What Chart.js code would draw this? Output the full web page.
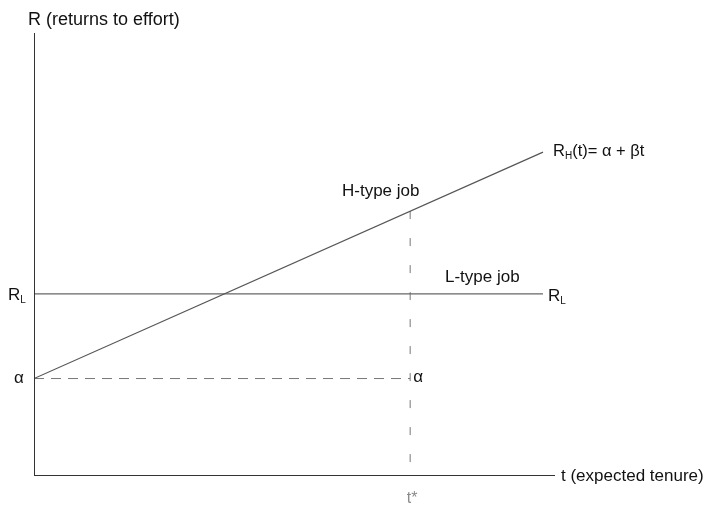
<!DOCTYPE html>
<html>
<head>
<meta charset="utf-8">
<script src="https://cdn.jsdelivr.net/npm/chart.js@4.4.1/dist/chart.umd.min.js"></script>
<style>
  html, body { margin: 0; padding: 0; background: #fff; }
  #wrap { width: 707px; height: 507px; }
</style>
</head>
<body>
<div id="wrap"><canvas id="tenureChart" width="707" height="507"></canvas></div>
<script>
// t values: start, t*, end of the drawn lines
const tPoints = [0, 72.2, 97.7];
// R values of the H-type job line R_H(t) = alpha + beta t
const rHigh = [22, 59.8, 73.1];
// R values of the L-type job line (flat)
const rLow = [41.1, 41.1, 41.1];
const alpha = 22;
const tStar = 72.2;
const axisMax = { t: 100, r: 100 };

const FONT = '"Liberation Sans", Arial, sans-serif';

function pts(xs, ys) {
  return xs.map((x, i) => ({ x: x, y: ys[i] }));
}

// text labels drawn in data space
const labelPlugin = {
  id: "labels",
  afterDatasetsDraw(chart) {
    const { ctx, scales: { x, y } } = chart;
    const px = (v) => x.getPixelForValue(v);
    const py = (v) => y.getPixelForValue(v);

    ctx.save();
    ctx.textBaseline = "alphabetic";
    ctx.fillStyle = "#111";

    function sub(main, s, left, base, size) {
      ctx.font = size + "px " + FONT;
      ctx.fillText(main, left, base);
      const w = ctx.measureText(main).width;
      ctx.font = Math.round(size * 0.6) + "px " + FONT;
      ctx.fillText(s, left + w, base + 3);
      return left + w + ctx.measureText(s).width;
    }

    ctx.font = "18px " + FONT;
    ctx.fillText("R (returns to effort)", 28, 25);

    // left axis labels
    ctx.textBaseline = "middle";
    ctx.font = "17px " + FONT;
    ctx.fillText("α", 14, py(alpha));
    ctx.textBaseline = "alphabetic";
    sub("R", "L", 8, py(rLow[0]) + 6, 17);

    // right end labels
    sub("R", "L", px(tPoints[2]) + 5, py(rLow[2]) + 7, 17);
    let xe = sub("R", "H", px(tPoints[2]) + 10, py(rHigh[2]) + 4, 16.5);
    ctx.font = "16.5px " + FONT;
    ctx.fillText("(t)= α + βt", xe, py(rHigh[2]) + 4);

    ctx.font = "17px " + FONT;
    ctx.fillText("H-type job", 342, 196);
    ctx.fillText("L-type job", 445, 282);

    ctx.textBaseline = "middle";
    ctx.fillText("α", px(tStar) + 3, py(alpha) - 1);
    ctx.fillText("t (expected tenure)", px(axisMax.t) + 6, py(0));

    ctx.fillStyle = "#8a8a8a";
    ctx.font = "16px " + FONT;
    ctx.textAlign = "center";
    ctx.fillText("t*", px(tStar) + 2, 499);
    ctx.restore();
  }
};

new Chart(document.getElementById("tenureChart"), {
  type: "scatter",
  data: {
    datasets: [
      {
        label: "R axis",
        data: [{ x: 0, y: 0 }, { x: 0, y: axisMax.r }],
        showLine: true, borderColor: "#333", borderWidth: 2, pointRadius: 0
      },
      {
        label: "t axis",
        data: [{ x: 0, y: 0 }, { x: axisMax.t, y: 0 }],
        showLine: true, borderColor: "#333", borderWidth: 2, pointRadius: 0
      },
      {
        label: "H-type job",
        data: pts([tPoints[0], tPoints[2]], [rHigh[0], rHigh[2]]),
        showLine: true, borderColor: "#555", borderWidth: 1.2, pointRadius: 0
      },
      {
        label: "L-type job",
        data: pts([tPoints[0], tPoints[2]], [rLow[0], rLow[2]]),
        showLine: true, borderColor: "#666", borderWidth: 1.2, pointRadius: 0
      },
      {
        label: "alpha dashed",
        data: [{ x: 0, y: alpha }, { x: tStar, y: alpha }],
        showLine: true, borderColor: "#777", borderWidth: 1, borderDash: [10, 7], pointRadius: 0
      },
      {
        label: "t* dashed",
        data: [{ x: tStar, y: rHigh[1] }, { x: tStar, y: 0 }],
        showLine: true, borderColor: "#777", borderWidth: 1, borderDash: [8, 19], pointRadius: 0
      }
    ]
  },
  options: {
    responsive: false,
    animation: false,
    layout: { padding: { left: 34, right: 152, top: 33, bottom: 31 } },
    plugins: { legend: { display: false }, tooltip: { enabled: false } },
    scales: {
      x: { type: "linear", min: 0, max: axisMax.t, display: false },
      y: { type: "linear", min: 0, max: axisMax.r, display: false }
    }
  },
  plugins: [labelPlugin]
});
</script>
</body>
</html>
